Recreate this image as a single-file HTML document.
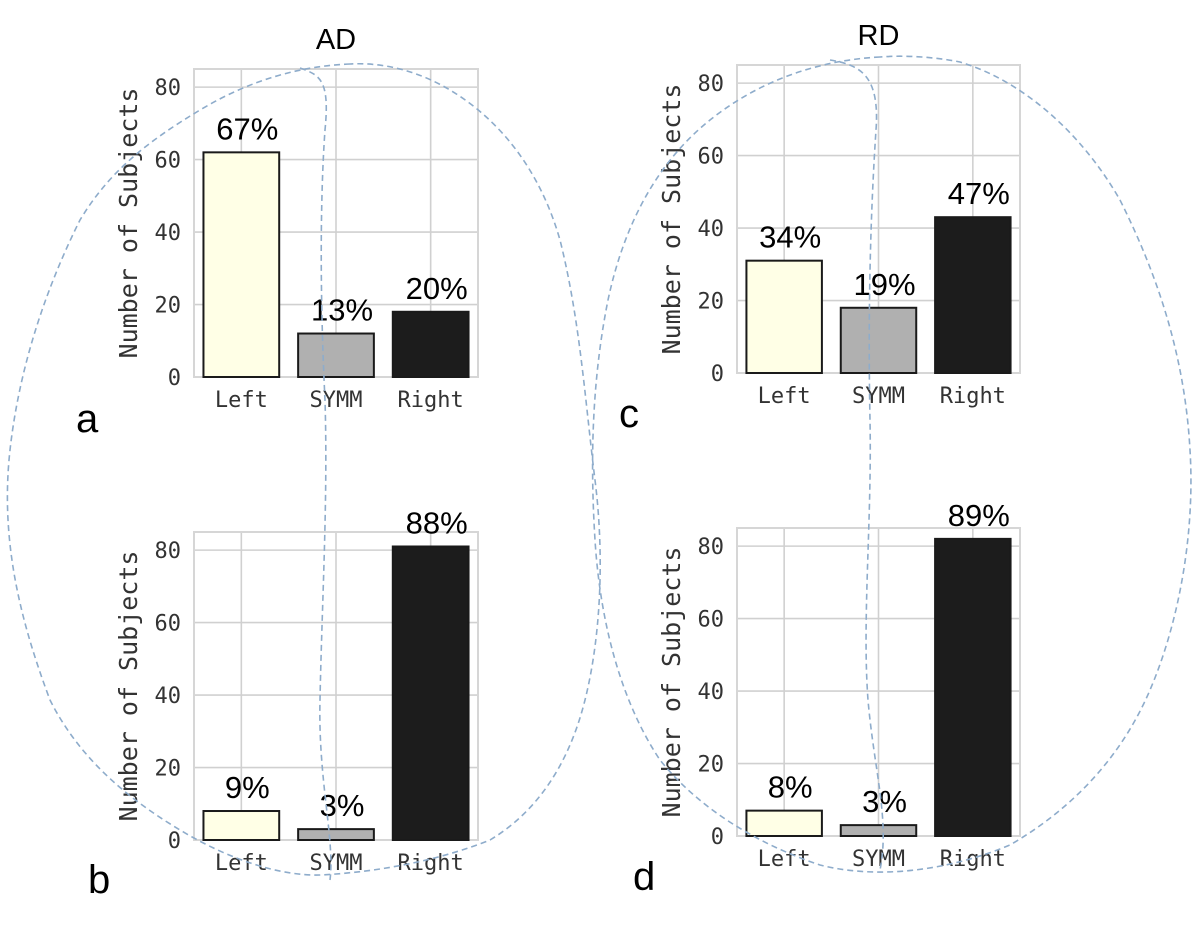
<!DOCTYPE html>
<html><head><meta charset="utf-8">
<style>
html,body{margin:0;padding:0;background:#fff;}
svg{display:block;}
.tick{font-family:"DejaVu Sans Mono","Liberation Mono",monospace;font-size:22px;fill:#333;}
.ytitle{font-family:"DejaVu Sans Mono","Liberation Mono",monospace;font-size:25px;fill:#333;}
.lab{font-family:"Liberation Sans",sans-serif;font-size:31px;fill:#000;}
</style></head>
<body>
<svg id="fig" width="1196" height="939" viewBox="0 0 1196 939" xmlns="http://www.w3.org/2000/svg">
  <g id="panels"></g>
  <g id="brain" fill="none" stroke="#8eaccb" stroke-width="1.6" stroke-dasharray="6,4">
    <path d="M350,64 C300,66 250,80 200,110 C150,140 110,170 80,220 C50,280 20,360 10,450 C0,540 20,620 50,700 C80,760 130,800 180,830 C230,860 280,876 320,875 C380,872 440,860 490,840 C540,810 570,760 585,700 C600,640 605,560 595,480 C585,400 580,320 560,240 C540,170 500,120 450,90 C420,72 385,62 350,64 Z"/>
    <path d="M300,68 C320,75 330,80 325,130 C320,200 320,300 325,400 C328,500 322,600 320,700 C318,780 335,840 330,880"/>
    <path d="M880,57 C820,60 760,80 710,120 C660,160 625,220 608,300 C592,380 590,460 595,540 C600,620 620,700 660,760 C700,810 760,845 820,865 C880,880 950,870 1010,845 C1070,810 1120,760 1150,690 C1180,620 1195,530 1190,450 C1185,360 1160,280 1120,200 C1080,130 1020,80 960,62 C935,57 905,55 880,57 Z"/>
    <path d="M830,60 C860,65 880,75 876,130 C870,220 868,320 870,420 C872,520 862,620 868,700 C874,770 890,820 880,870"/>
  </g>
</svg>
<script>
const categories = ["Left", "SYMM", "Right"];
const valuesA = [62, 12, 18];
const valuesB = [8, 3, 81];
const valuesC = [31, 18, 43];
const valuesD = [7, 3, 82];
const pctA = ["67%", "13%", "20%"];
const pctB = ["9%", "3%", "88%"];
const pctC = ["34%", "19%", "47%"];
const pctD = ["8%", "3%", "89%"];
const yTicks = [0, 20, 40, 60, 80];
const yMax = 85;

const NS = "http://www.w3.org/2000/svg";
const fills = ["#ffffe6", "#b0b0b0", "#1c1c1c"];
const panels = [
  {id:"a", x0:194, x1:478, y0:69, y1:377, vals:valuesA, pct:pctA, title:"AD", letter:[76,432]},
  {id:"b", x0:194, x1:478, y0:532, y1:840, vals:valuesB, pct:pctB, title:null, letter:[88,893]},
  {id:"c", x0:737, x1:1020, y0:65, y1:373, vals:valuesC, pct:pctC, title:"RD", letter:[619,427]},
  {id:"d", x0:737, x1:1020, y0:528, y1:836, vals:valuesD, pct:pctD, title:null, letter:[633,890]}
];
const root = document.getElementById("panels");
function mk(tag, attrs, parent){
  const e = document.createElementNS(NS, tag);
  for (const k in attrs) e.setAttribute(k, attrs[k]);
  parent.appendChild(e);
  return e;
}
panels.forEach(p => {
  const g = mk("g", {}, root);
  
  
  const y = v => p.y1 - (v / yMax) * (p.y1 - p.y0);
  const band = (p.x1 - p.x0) / categories.length;
  const x = i => p.x0 + band * (i + 0.5);
  yTicks.forEach(t => {
    const l = mk("line", {x1:p.x0, x2:p.x1, y1:y(t), y2:y(t), stroke:"#d0d0d0", "stroke-width":1.6}, g);
    
    
    const tx = mk("text", {x:p.x0-13, y:y(t)+8, "text-anchor":"end", class:"tick"}, g);
    tx.textContent = t;
    
    
  });
  categories.forEach((c, i) => {
    const l = mk("line", {x1:x(i), x2:x(i), y1:p.y0, y2:p.y1, stroke:"#d0d0d0", "stroke-width":1.6}, g);
    
    
    const tx = mk("text", {x:x(i), y:p.y1+30, "text-anchor":"middle", class:"tick"}, g);
    tx.textContent = c;
    
    
  });
  const fr = mk("rect", {x:p.x0, y:p.y0, width:p.x1-p.x0, height:p.y1-p.y0, fill:"none", stroke:"#d6d6d6", "stroke-width":2}, g);
  
  
  const bw = band * 0.8;
  p.vals.forEach((v, i) => {
    const r = mk("rect", {x:x(i)-bw/2, y:y(v), width:bw, height:p.y1-y(v), fill:fills[i], stroke:"#1a1a1a", "stroke-width":2}, g);
    
    
    const tx = mk("text", {x:x(i)+6, y:y(v)-13, "text-anchor":"middle", class:"lab"}, g);
    tx.textContent = p.pct[i];
    
    
  });
  const yl = mk("text", {x:0, y:0, "text-anchor":"middle", class:"ytitle", transform:`translate(${p.x0-57},${(p.y0+p.y1)/2}) rotate(-90)`}, g);
  yl.textContent = "Number of Subjects";
  
  
  if (p.title) {
    const t = mk("text", {x:(p.x0+p.x1)/2, y:p.y0-20, "text-anchor":"middle", class:"lab", style:"font-size:29px"}, g);
    t.textContent = p.title;
    
    
  }
  const lt = mk("text", {x:p.letter[0], y:p.letter[1], class:"lab", style:"font-size:40px"}, g);
  lt.textContent = p.id;
  
  
});
</script>
</body></html>
